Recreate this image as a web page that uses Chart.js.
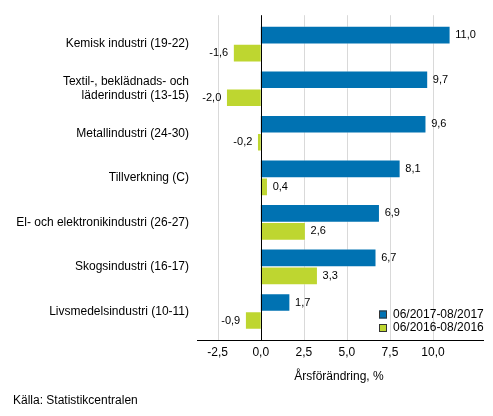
<!DOCTYPE html>
<html>
<head>
<meta charset="utf-8">
<script src="https://cdn.jsdelivr.net/npm/chart.js@4/dist/chart.umd.min.js"></script>
<style>
  html, body { margin: 0; padding: 0; background: #fff; }
  #wrap { position: relative; width: 493px; height: 416px; }
</style>
</head>
<body>
<div id="wrap"><canvas id="chart"></canvas></div>
<script>
// ===== data =====
const CATEGORIES = [
  "Kemisk industri (19-22)",
  ["Textil-, beklädnads- och", "läderindustri (13-15)"],
  "Metallindustri (24-30)",
  "Tillverkning (C)",
  "El- och elektronikindustri (26-27)",
  "Skogsindustri (16-17)",
  "Livsmedelsindustri (10-11)"
];
const SERIES_NAMES = ["06/2017-08/2017", "06/2016-08/2016"];
const VALUES_2017 = [11.0, 9.7, 9.6, 8.1, 6.9, 6.7, 1.7];
const VALUES_2016 = [-1.6, -2.0, -0.2, 0.4, 2.6, 3.3, -0.9];
const X_TICKS = [-2.5, 0, 2.5, 5, 7.5, 10];

const BLUE = "#0072b2";
const GREEN = "#bed630";
const FONT = "'Liberation Sans', Arial, sans-serif";

const fmt = (v) => v.toFixed(1).replace(".", ",");

function toPoints(vals) {
  return vals.map((v, i) => ({ x: v, y: i }));
}

// vertical grid lines from the x scale, zero line on top of bars
const gridLines = {
  id: "gridLines",
  beforeDatasetsDraw(chart) {
    const { ctx, chartArea, scales } = chart;
    ctx.save();
    ctx.strokeStyle = "#d9d9d9";
    ctx.lineWidth = 1;
    X_TICKS.forEach((v) => {
      if (v === 0) return;
      const px = Math.round(scales.x.getPixelForValue(v)) + 0.5;
      ctx.beginPath();
      ctx.moveTo(px, chartArea.top);
      ctx.lineTo(px, chartArea.bottom);
      ctx.stroke();
    });
    ctx.restore();
  },
  afterDatasetsDraw(chart) {
    const { ctx, chartArea, scales } = chart;
    ctx.save();
    ctx.strokeStyle = "#000";
    ctx.lineWidth = 1;
    const px = Math.round(scales.x.getPixelForValue(0)) + 0.5;
    ctx.beginPath();
    ctx.moveTo(px, chartArea.top);
    ctx.lineTo(px, chartArea.bottom);
    ctx.stroke();
    ctx.restore();
  }
};

// value labels at bar ends
const valueLabels = {
  id: "valueLabels",
  afterDatasetsDraw(chart) {
    const ctx = chart.ctx;
    ctx.save();
    ctx.font = "11px " + FONT;
    ctx.fillStyle = "#000";
    ctx.textBaseline = "middle";
    chart.data.datasets.forEach((ds, di) => {
      const meta = chart.getDatasetMeta(di);
      meta.data.forEach((bar, i) => {
        const v = ds.data[i].x;
        if (v >= 0) {
          ctx.textAlign = "left";
          ctx.fillText(fmt(v), bar.x + 5, bar.y);
        } else {
          ctx.textAlign = "right";
          ctx.fillText(fmt(v), bar.x - 5, bar.y);
        }
      });
    });
    ctx.restore();
  }
};

// legend inside plot + axis title + source
const extras = {
  id: "extras",
  afterDraw(chart) {
    const ctx = chart.ctx;
    ctx.save();
    ctx.font = "12px " + FONT;
    ctx.textBaseline = "middle";
    ctx.textAlign = "left";
    const cols = [BLUE, GREEN];
    SERIES_NAMES.forEach((name, i) => {
      const y = 314.5 + i * 13.5;
      ctx.fillStyle = cols[i];
      ctx.fillRect(379, y - 4, 8, 8);
      ctx.strokeStyle = "#333";
      ctx.lineWidth = 1;
      ctx.strokeRect(379.5, y - 3.5, 7, 7);
      ctx.fillStyle = "#000";
      ctx.fillText(name, 393, y);
    });

    ctx.textAlign = "center";
    ctx.fillText("Årsförändring, %", 339, 377);

    ctx.textAlign = "left";
    ctx.fillText("Källa: Statistikcentralen", 13, 401);
    ctx.restore();
  }
};

new Chart(document.getElementById("chart"), {
  type: "bar",
  data: {
    datasets: [
      {
        label: SERIES_NAMES[0],
        data: toPoints(VALUES_2017),
        backgroundColor: BLUE,
        borderColor: "rgba(255,255,255,0.25)",
        borderWidth: 1,
        barThickness: 18
      },
      {
        label: SERIES_NAMES[1],
        data: toPoints(VALUES_2016),
        backgroundColor: GREEN,
        borderColor: "rgba(255,255,255,0.25)",
        borderWidth: 1,
        barThickness: 18
      }
    ]
  },
  options: {
    indexAxis: "y",
    responsive: true,
    maintainAspectRatio: false,
    animation: false,
    layout: { padding: { top: 10, right: 10, left: 0, bottom: 0 } },
    plugins: {
      legend: { display: false },
      tooltip: { enabled: false }
    },
    scales: {
      x: {
        type: "linear",
        min: -3.7,
        max: 12.9,
        afterBuildTicks: (scale) => {
          scale.ticks = X_TICKS.map((v) => ({ value: v }));
        },
        afterFit: (scale) => { scale.height = 76; },
        ticks: {
          font: { family: FONT, size: 12 },
          color: "#000",
          padding: 5,
          autoSkip: false,
          callback: (v) => fmt(v)
        },
        grid: { display: false, drawTicks: false },
        border: { display: true, color: "#000", width: 1 }
      },
      y: {
        type: "linear",
        reverse: true,
        offset: false,
        min: -0.65,
        max: 6.64,
        afterBuildTicks: (scale) => {
          scale.ticks = CATEGORIES.map((_, i) => ({ value: i }));
        },
        afterFit: (scale) => { scale.width = 197; },
        ticks: {
          font: { family: FONT, size: 12 },
          color: "#000",
          padding: 8,
          autoSkip: false,
          callback: (v) => CATEGORIES[v]
        },
        grid: { display: false, drawTicks: false, offset: false },
        border: { display: false }
      }
    }
  },
  plugins: [gridLines, valueLabels, extras]
});
</script>
</body>
</html>
